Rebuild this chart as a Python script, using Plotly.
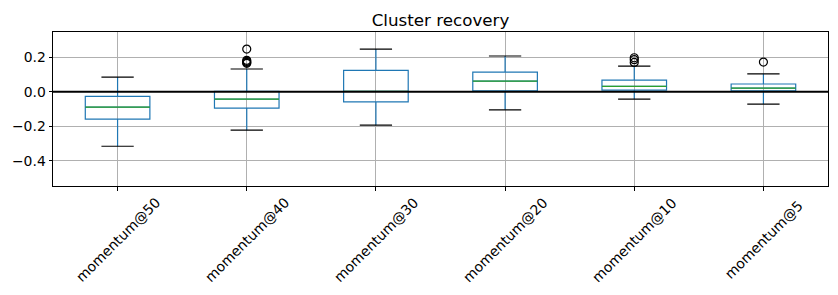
import plotly.graph_objects as go

categories = ["momentum@50", "momentum@40", "momentum@30", "momentum@20", "momentum@10", "momentum@5"]
lower_whisker = [-0.315, -0.222, -0.193, -0.104, -0.042, -0.071]
q1_values = [-0.158, -0.095, -0.058, 0.006, 0.010, 0.006]
median_values = [-0.089, -0.042, 0.002, 0.062, 0.031, 0.021]
q3_values = [-0.027, 0.003, 0.124, 0.114, 0.068, 0.045]
upper_whisker = [0.085, 0.132, 0.247, 0.207, 0.149, 0.104]
outlier_cat = [1, 1, 1, 1, 1, 4, 4, 4, 5]
outlier_vals = [0.247, 0.182, 0.176, 0.170, 0.165, 0.197, 0.186, 0.170, 0.172]

BLUE = "#1f77b4"
GREEN = "#2ca02c"
FONT = "DejaVu Sans"
pos = list(range(len(categories)))

fig = go.Figure()
fig.add_trace(go.Box(
    x=pos, q1=q1_values, median=median_values, q3=q3_values,
    lowerfence=lower_whisker, upperfence=upper_whisker,
    width=0.5, whiskerwidth=0, boxpoints=False,
    line=dict(color=BLUE, width=1.2), fillcolor="rgba(0,0,0,0)",
    hoverinfo="skip", showlegend=False,
))

mx, my = [], []
for i, m in zip(pos, median_values):
    mx += [i - 0.25, i + 0.25, None]
    my += [m, m, None]
fig.add_trace(go.Scatter(x=mx, y=my, mode="lines", line=dict(color=GREEN, width=1.2),
                         hoverinfo="skip", showlegend=False))

cx, cy = [], []
for i, lo, hi in zip(pos, lower_whisker, upper_whisker):
    cx += [i - 0.125, i + 0.125, None, i - 0.125, i + 0.125, None]
    cy += [lo, lo, None, hi, hi, None]
fig.add_trace(go.Scatter(x=cx, y=cy, mode="lines", line=dict(color="black", width=1.2),
                         hoverinfo="skip", showlegend=False))

fig.add_trace(go.Scatter(x=outlier_cat, y=outlier_vals, mode="markers",
                         marker=dict(symbol="circle-open", size=8, color="black",
                                     line=dict(color="black", width=1.2)),
                         hoverinfo="skip", showlegend=False))

fig.add_shape(type="line", xref="paper", x0=0, x1=1, yref="y", y0=0, y1=0,
              line=dict(color="black", width=2), layer="above")

for i, c in zip(pos, categories):
    fig.add_annotation(x=i, xref="x", y=-0.35, yref="paper", text=c, showarrow=False,
                       textangle=-45, xanchor="center", yanchor="middle",
                       font=dict(family=FONT, size=13.9, color="black"))

fig.update_layout(
    width=838, height=295,
    margin=dict(l=53, r=10, t=32, b=109, autoexpand=False),
    paper_bgcolor="white", plot_bgcolor="white",
    font=dict(family=FONT, size=13.9, color="black"),
    title=dict(text="Cluster recovery", x=0.5, xref="paper", xanchor="center",
               y=1, yref="paper", yanchor="bottom", pad=dict(b=6),
               font=dict(family=FONT, size=16.7, color="black")),
    showlegend=False,
)
fig.update_xaxes(range=[-0.5, 5.5], tickvals=pos, ticktext=[""] * len(pos),
                 showgrid=True, gridcolor="#b0b0b0", gridwidth=0.8,
                 ticks="outside", ticklen=3.5, tickcolor="black", tickwidth=0.8,
                 showline=True, linecolor="black", linewidth=1, mirror=True,
                 zeroline=False, automargin=False)
fig.update_yaxes(range=[-0.545, 0.346], tickvals=[-0.4, -0.2, 0.0, 0.2], tickformat=".1f",
                 showgrid=True, gridcolor="#b0b0b0", gridwidth=0.8,
                 ticks="outside", ticklen=3.5, tickcolor="black", tickwidth=0.8,
                 showline=True, linecolor="black", linewidth=1, mirror=True,
                 zeroline=False, automargin=False)

fig.write_html("out.html", config={"displayModeBar": False},
               post_script="document.body.style.margin='0';document.body.style.overflow='hidden';")
